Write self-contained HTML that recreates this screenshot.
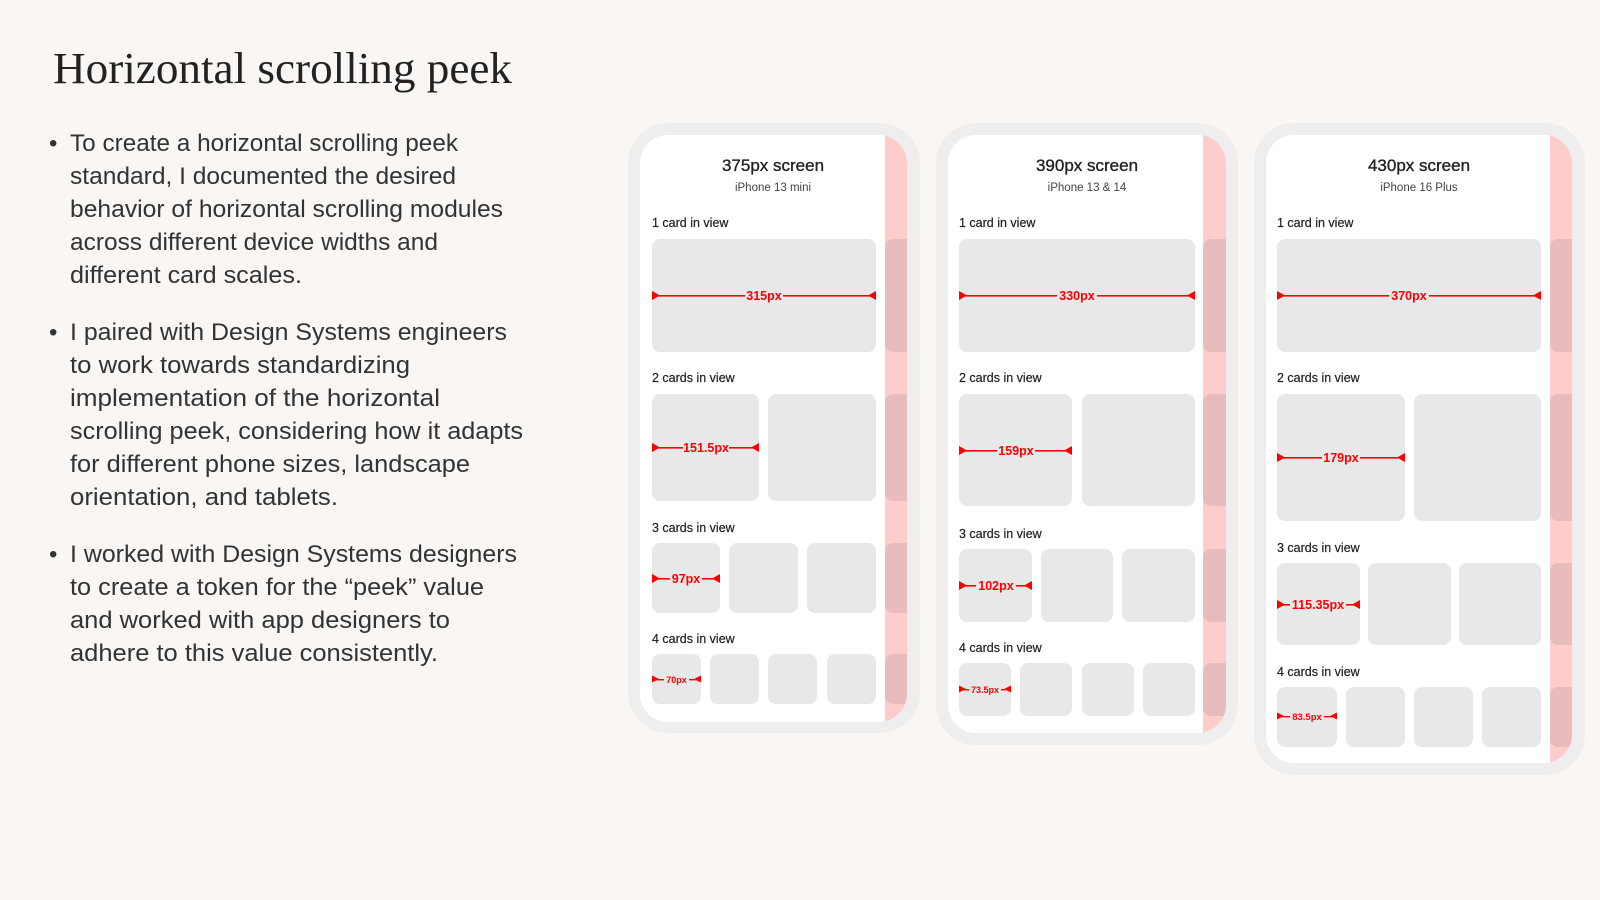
<!DOCTYPE html>
<html><head><meta charset="utf-8"><style>
html,body{margin:0;padding:0;background:#f9f6f3;}
svg{display:block}
</style></head><body>
<svg width="1600" height="900" viewBox="0 0 1600 900" xmlns="http://www.w3.org/2000/svg">
<rect width="1600" height="900" fill="#f9f6f3"/>
<defs>
<clipPath id="c1"><rect x="640" y="135" width="267" height="587" rx="28"/></clipPath>
<clipPath id="c2"><rect x="948" y="135" width="278" height="598" rx="28"/></clipPath>
<clipPath id="c3"><rect x="1266" y="135" width="306" height="628" rx="28"/></clipPath>
</defs>
<text x="53" y="83" font-family="Liberation Serif, serif" font-size="44" fill="#222" textLength="459" lengthAdjust="spacingAndGlyphs">Horizontal scrolling peek</text>
<g font-family="Liberation Sans, sans-serif" font-size="24" fill="#333">
<text x="49" y="151">•</text>
<text x="70" y="151" textLength="388" lengthAdjust="spacingAndGlyphs">To create a horizontal scrolling peek</text>
<text x="70" y="184" textLength="386" lengthAdjust="spacingAndGlyphs">standard, I documented the desired</text>
<text x="70" y="217" textLength="433" lengthAdjust="spacingAndGlyphs">behavior of horizontal scrolling modules</text>
<text x="70" y="250" textLength="368" lengthAdjust="spacingAndGlyphs">across different device widths and</text>
<text x="70" y="283" textLength="232" lengthAdjust="spacingAndGlyphs">different card scales.</text>
<text x="49" y="340">•</text>
<text x="70" y="340" textLength="437" lengthAdjust="spacingAndGlyphs">I paired with Design Systems engineers</text>
<text x="70" y="373" textLength="340" lengthAdjust="spacingAndGlyphs">to work towards standardizing</text>
<text x="70" y="406" textLength="370" lengthAdjust="spacingAndGlyphs">implementation of the horizontal</text>
<text x="70" y="439" textLength="453" lengthAdjust="spacingAndGlyphs">scrolling peek, considering how it adapts</text>
<text x="70" y="472" textLength="400" lengthAdjust="spacingAndGlyphs">for different phone sizes, landscape</text>
<text x="70" y="505" textLength="268" lengthAdjust="spacingAndGlyphs">orientation, and tablets.</text>
<text x="49" y="562">•</text>
<text x="70" y="562" textLength="447" lengthAdjust="spacingAndGlyphs">I worked with Design Systems designers</text>
<text x="70" y="595" textLength="414" lengthAdjust="spacingAndGlyphs">to create a token for the “peek” value</text>
<text x="70" y="628" textLength="380" lengthAdjust="spacingAndGlyphs">and worked with app designers to</text>
<text x="70" y="661" textLength="368" lengthAdjust="spacingAndGlyphs">adhere to this value consistently.</text>
</g>

<!-- Phone 1 -->
<rect x="628" y="123" width="292" height="610" rx="40" fill="#eeeeee"/>
<rect x="640" y="135" width="267" height="587" rx="28" fill="#fff"/>
<g clip-path="url(#c1)">
<rect x="885" y="130" width="30" height="600" fill="#ffcccc"/>
<rect x="885" y="239" width="40" height="113" rx="8" fill="#e8bcbc"/>
<rect x="885" y="394" width="40" height="107" rx="8" fill="#e8bcbc"/>
<rect x="885" y="543" width="40" height="70" rx="8" fill="#e8bcbc"/>
<rect x="885" y="654" width="40" height="50" rx="8" fill="#e8bcbc"/>
</g>
<g fill="#e8e8e8">
<rect x="652" y="239" width="224" height="113" rx="8"/>
<rect x="652" y="394" width="107" height="107" rx="8"/><rect x="768" y="394" width="108" height="107" rx="8"/>
<rect x="652" y="543" width="68" height="70" rx="8"/><rect x="729" y="543" width="69" height="70" rx="8"/><rect x="807" y="543" width="69" height="70" rx="8"/>
<rect x="652" y="654" width="49" height="50" rx="8"/><rect x="710" y="654" width="49" height="50" rx="8"/><rect x="768" y="654" width="49" height="50" rx="8"/><rect x="827" y="654" width="49" height="50" rx="8"/>
</g>
<g font-family="Liberation Sans, sans-serif" fill="#222">
<text x="773" y="171" font-size="17" text-anchor="middle" stroke="#222" stroke-width="0.35">375px screen</text>
<text x="773" y="191" font-size="11.5" text-anchor="middle" fill="#444">iPhone 13 mini</text>
<g font-size="12.5" stroke="#222" stroke-width="0.2">
<text x="652" y="227">1 card in view</text>
<text x="652" y="382">2 cards in view</text>
<text x="652" y="532">3 cards in view</text>
<text x="652" y="643">4 cards in view</text>
</g></g>

<!-- Phone 2 -->
<rect x="936" y="123" width="302" height="622" rx="40" fill="#eeeeee"/>
<rect x="948" y="135" width="278" height="598" rx="28" fill="#fff"/>
<g clip-path="url(#c2)">
<rect x="1203" y="130" width="30" height="610" fill="#ffcccc"/>
<rect x="1203" y="239" width="40" height="113" rx="8" fill="#e8bcbc"/>
<rect x="1203" y="394" width="40" height="112" rx="8" fill="#e8bcbc"/>
<rect x="1203" y="549" width="40" height="73" rx="8" fill="#e8bcbc"/>
<rect x="1203" y="663" width="40" height="53" rx="8" fill="#e8bcbc"/>
</g>
<g fill="#e8e8e8">
<rect x="959" y="239" width="236" height="113" rx="8"/>
<rect x="959" y="394" width="113" height="112" rx="8"/><rect x="1082" y="394" width="113" height="112" rx="8"/>
<rect x="959" y="549" width="73" height="73" rx="8"/><rect x="1041" y="549" width="72" height="73" rx="8"/><rect x="1122" y="549" width="73" height="73" rx="8"/>
<rect x="959" y="663" width="52" height="53" rx="8"/><rect x="1020" y="663" width="52" height="53" rx="8"/><rect x="1082" y="663" width="52" height="53" rx="8"/><rect x="1143" y="663" width="52" height="53" rx="8"/>
</g>
<g font-family="Liberation Sans, sans-serif" fill="#222">
<text x="1087" y="171" font-size="17" text-anchor="middle" stroke="#222" stroke-width="0.35">390px screen</text>
<text x="1087" y="191" font-size="11.5" text-anchor="middle" fill="#444">iPhone 13 &amp; 14</text>
<g font-size="12.5" stroke="#222" stroke-width="0.2">
<text x="959" y="227">1 card in view</text>
<text x="959" y="382">2 cards in view</text>
<text x="959" y="538">3 cards in view</text>
<text x="959" y="652">4 cards in view</text>
</g></g>

<!-- Phone 3 -->
<rect x="1254" y="123" width="331" height="652" rx="40" fill="#eeeeee"/>
<rect x="1266" y="135" width="306" height="628" rx="28" fill="#fff"/>
<g clip-path="url(#c3)">
<rect x="1550" y="130" width="30" height="640" fill="#ffcccc"/>
<rect x="1550" y="239" width="40" height="113" rx="8" fill="#e8bcbc"/>
<rect x="1550" y="394" width="40" height="127" rx="8" fill="#e8bcbc"/>
<rect x="1550" y="563" width="40" height="82" rx="8" fill="#e8bcbc"/>
<rect x="1550" y="687" width="40" height="60" rx="8" fill="#e8bcbc"/>
</g>
<g fill="#e8e8e8">
<rect x="1277" y="239" width="264" height="113" rx="8"/>
<rect x="1277" y="394" width="128" height="127" rx="8"/><rect x="1414" y="394" width="127" height="127" rx="8"/>
<rect x="1277" y="563" width="83" height="82" rx="8"/><rect x="1368" y="563" width="83" height="82" rx="8"/><rect x="1459" y="563" width="82" height="82" rx="8"/>
<rect x="1277" y="687" width="60" height="60" rx="8"/><rect x="1346" y="687" width="59" height="60" rx="8"/><rect x="1414" y="687" width="59" height="60" rx="8"/><rect x="1482" y="687" width="59" height="60" rx="8"/>
</g>
<g font-family="Liberation Sans, sans-serif" fill="#222">
<text x="1419" y="171" font-size="17" text-anchor="middle" stroke="#222" stroke-width="0.35">430px screen</text>
<text x="1419" y="191" font-size="11.5" text-anchor="middle" fill="#444">iPhone 16 Plus</text>
<g font-size="12.5" stroke="#222" stroke-width="0.2">
<text x="1277" y="227">1 card in view</text>
<text x="1277" y="382">2 cards in view</text>
<text x="1277" y="552">3 cards in view</text>
<text x="1277" y="676">4 cards in view</text>
</g></g>

<!-- measurements -->
<g fill="#ff0000" stroke="none" font-family="Liberation Sans, sans-serif" font-weight="bold" text-anchor="middle">
<rect x="652" y="295" width="224" height="1.6"/><path d="M652 291v9l8-4.5z M876 291v9l-8-4.5z"/>
<rect x="745" y="288" width="38" height="15" fill="#e8e8e8"/><text x="764" y="300" font-size="12.5">315px</text>
<rect x="652" y="447" width="107" height="1.6"/><path d="M652 443v9l8-4.5z M759 443v9l-8-4.5z"/>
<rect x="683" y="440" width="46" height="15" fill="#e8e8e8"/><text x="706" y="452" font-size="12.5">151.5px</text>
<rect x="652" y="578" width="68" height="1.6"/><path d="M652 574v9l8-4.5z M720 574v9l-8-4.5z"/>
<rect x="670" y="571" width="32" height="15" fill="#e8e8e8"/><text x="686" y="583" font-size="12.5">97px</text>
<rect x="652" y="679" width="49" height="1.4"/><path d="M652 675.5v7l7-3.5z M701 675.5v7l-7-3.5z"/>
<rect x="664" y="674" width="25" height="11" fill="#e8e8e8"/><text x="676.5" y="683" font-size="9">70px</text>
<rect x="959" y="295" width="236" height="1.6"/><path d="M959 291v9l8-4.5z M1195 291v9l-8-4.5z"/>
<rect x="1057" y="288" width="40" height="15" fill="#e8e8e8"/><text x="1077" y="300" font-size="12.5">330px</text>
<rect x="959" y="450" width="113" height="1.6"/><path d="M959 446v9l8-4.5z M1072 446v9l-8-4.5z"/>
<rect x="997" y="443" width="38" height="15" fill="#e8e8e8"/><text x="1016" y="455" font-size="12.5">159px</text>
<rect x="959" y="585" width="73" height="1.6"/><path d="M959 581v9l8-4.5z M1032 581v9l-8-4.5z"/>
<rect x="976" y="578" width="40" height="15" fill="#e8e8e8"/><text x="996" y="590" font-size="12.5">102px</text>
<rect x="959" y="689" width="52" height="1.4"/><path d="M959 685.5v7l7-3.5z M1011 685.5v7l-7-3.5z"/>
<rect x="969" y="684" width="32" height="11" fill="#e8e8e8"/><text x="985" y="693" font-size="9">73.5px</text>
<rect x="1277" y="295" width="264" height="1.6"/><path d="M1277 291v9l8-4.5z M1541 291v9l-8-4.5z"/>
<rect x="1389" y="288" width="40" height="15" fill="#e8e8e8"/><text x="1409" y="300" font-size="12.5">370px</text>
<rect x="1277" y="457" width="128" height="1.6"/><path d="M1277 453v9l8-4.5z M1405 453v9l-8-4.5z"/>
<rect x="1322" y="450" width="38" height="15" fill="#e8e8e8"/><text x="1341" y="462" font-size="12.5">179px</text>
<rect x="1277" y="604" width="83" height="1.6"/><path d="M1277 600v9l8-4.5z M1360 600v9l-8-4.5z"/>
<rect x="1290" y="597" width="56" height="15" fill="#e8e8e8"/><text x="1318" y="609" font-size="12.5">115.35px</text>
<rect x="1277" y="716" width="60" height="1.4"/><path d="M1277 712.5v7l7-3.5z M1337 712.5v7l-7-3.5z"/>
<rect x="1290" y="711" width="34" height="11" fill="#e8e8e8"/><text x="1307" y="720" font-size="9.5">83.5px</text>
</g>
</svg>
</body></html>
